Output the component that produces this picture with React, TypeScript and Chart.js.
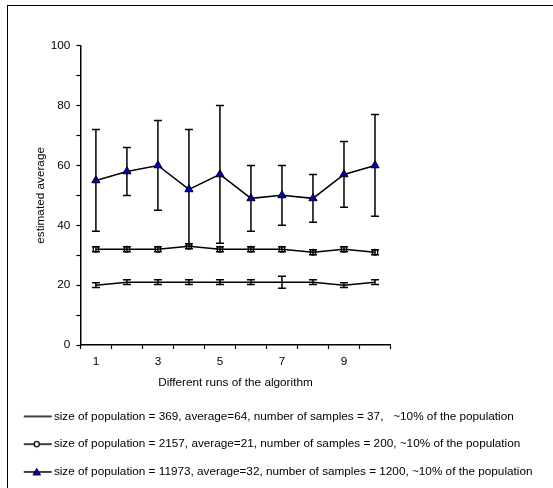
import React, { useEffect, useRef } from 'react';
import { Chart, registerables } from 'chart.js';

Chart.register(...registerables);

// ---- data ----
const runs = ['1', '2', '3', '4', '5', '6', '7', '8', '9', '10'];

// population 369 (plain line)
const smallMean = [20, 21, 21, 21, 21, 21, 21, 21, 20, 21];
const smallLow = [19.2, 20.2, 20.2, 20.2, 20.2, 20.2, 19, 20.2, 19.2, 20.2];
const smallHigh = [20.8, 21.8, 21.8, 21.8, 21.8, 21.8, 23, 21.8, 20.8, 21.8];

// population 2157 (open circles)
const midMean = [32, 32, 32, 33, 32, 32, 32, 31, 32, 31];
const midLow = [31.2, 31.2, 31.2, 32.2, 31.2, 31.2, 31.2, 30.2, 31.2, 30.2];
const midHigh = [32.8, 32.8, 32.8, 33.8, 32.8, 32.8, 32.8, 31.8, 32.8, 31.8];

// population 11973 (blue triangles)
const bigMean = [55, 58, 60, 52, 57, 49, 50, 49, 57, 60];
const bigLow = [38, 50, 45, 33, 34, 38, 40, 41, 46, 43];
const bigHigh = [72, 66, 75, 72, 80, 60, 60, 57, 68, 77];

const legendTexts = [
  'size of population = 369, average=64, number of samples = 37,   ~10% of the population',
  'size of population = 2157, average=21, number of samples = 200, ~10% of the population',
  'size of population = 11973, average=32, number of samples = 1200, ~10% of the population',
];
const markerKinds = ['none', 'circle', 'triangle'];

const xTitle = 'Different runs of the algorithm';
const yTitle = 'estimated average';

// ---- styling ----
const FONT = { family: "'Liberation Sans', Arial, sans-serif", size: 11.75 };
const BLUE = '#0000CC';
const PAD_LEFT = 7;

function legendImage(kind: string): HTMLCanvasElement {
  const c = document.createElement('canvas');
  c.width = 33;
  c.height = 12;
  const ctx = c.getContext('2d')!;
  ctx.strokeStyle = '#000';
  ctx.lineWidth = 1.5;
  ctx.beginPath();
  ctx.moveTo(4.75, 6);
  ctx.lineTo(32.75, 6);
  ctx.stroke();
  const cx = 17.75;
  if (kind === 'circle') {
    ctx.fillStyle = '#fff';
    ctx.lineWidth = 1.2;
    ctx.beginPath();
    ctx.arc(cx, 6, 2.6, 0, Math.PI * 2);
    ctx.fill();
    ctx.stroke();
  } else if (kind === 'triangle') {
    ctx.fillStyle = BLUE;
    ctx.lineWidth = 1;
    ctx.beginPath();
    ctx.moveTo(cx, 2.5);
    ctx.lineTo(cx + 3.8, 9);
    ctx.lineTo(cx - 3.8, 9);
    ctx.closePath();
    ctx.fill();
    ctx.stroke();
  }
  return c;
}

const errorBarPlugin = {
  id: 'errorBars',
  beforeDatasetsDraw(chart: any) {
    const ctx = chart.ctx;
    const yScale = chart.scales.y;
    ctx.save();
    ctx.strokeStyle = '#000';
    ctx.lineWidth = 1.5;
    chart.data.datasets.forEach((ds: any, i: number) => {
      const meta = chart.getDatasetMeta(i);
      meta.data.forEach((pt: any, j: number) => {
        const x = pt.x;
        const y1 = yScale.getPixelForValue(ds.errLow[j]);
        const y2 = yScale.getPixelForValue(ds.errHigh[j]);
        ctx.beginPath();
        ctx.moveTo(x, y1);
        ctx.lineTo(x, y2);
        ctx.moveTo(x - 4, y1);
        ctx.lineTo(x + 4, y1);
        ctx.moveTo(x - 4, y2);
        ctx.lineTo(x + 4, y2);
        ctx.stroke();
      });
    });
    ctx.restore();
  },
};

export default function App() {
  const ref = useRef<HTMLCanvasElement | null>(null);

  useEffect(() => {
    const canvas = ref.current;
    if (!canvas) return;
    const images = markerKinds.map(legendImage);

    const chart = new Chart(canvas, {
      type: 'line',
      data: {
        labels: runs,
        datasets: [
          {
            label: legendTexts[0],
            data: smallMean,
            errLow: smallLow,
            errHigh: smallHigh,
            borderColor: '#000',
            borderWidth: 1.5,
            pointRadius: 0,
            fill: false,
          } as any,
          {
            label: legendTexts[1],
            data: midMean,
            errLow: midLow,
            errHigh: midHigh,
            borderColor: '#000',
            borderWidth: 1.5,
            pointStyle: 'circle',
            pointRadius: 2.8,
            pointBorderWidth: 1.2,
            pointBackgroundColor: 'rgba(0,0,0,0)',
            pointBorderColor: '#000',
            fill: false,
          } as any,
          {
            label: legendTexts[2],
            data: bigMean,
            errLow: bigLow,
            errHigh: bigHigh,
            borderColor: '#000',
            borderWidth: 1.5,
            pointStyle: 'triangle',
            pointRadius: 4.7,
            pointBorderWidth: 1,
            pointBackgroundColor: BLUE,
            pointBorderColor: '#000',
            fill: false,
          } as any,
        ],
      },
      options: {
        responsive: false,
        animation: false,
        events: [],
        layout: { padding: { left: PAD_LEFT, right: 0, top: 45.7, bottom: 0.2 } },
        scales: {
          x: {
            type: 'category',
            offset: true,
            grid: {
              offset: true,
              drawOnChartArea: false,
              drawTicks: true,
              tickLength: 4,
              color: '#000',
              tickColor: '#000',
              tickWidth: 1.2,
            },
            border: { color: '#000', width: 1.5 },
            ticks: {
              autoSkip: false,
              maxRotation: 0,
              minRotation: 0,
              padding: 6,
              color: '#000',
              font: FONT,
              callback: (_v: any, i: number) => (i % 2 === 0 ? runs[i] : ''),
            },
            title: {
              display: true,
              text: xTitle,
              color: '#000',
              font: FONT,
              padding: { top: 0, bottom: 5.1 },
            },
            afterFit: (s: any) => {
              s.height = 49.5;
            },
          },
          y: {
            min: 0,
            max: 100,
            grid: {
              drawOnChartArea: false,
              drawTicks: true,
              tickLength: 4,
              color: '#000',
              tickColor: '#000',
              tickWidth: 1.2,
            },
            border: { color: '#000', width: 1.5 },
            ticks: {
              stepSize: 10,
              padding: 6,
              color: '#000',
              font: FONT,
              callback: (v: any) => (Number(v) % 20 === 0 ? String(v) : ''),
            },
            title: {
              display: true,
              text: yTitle,
              color: '#000',
              font: FONT,
              padding: { top: 26.7, bottom: 0 },
            },
            afterFit: (s: any) => {
              s.width = 80.4 - PAD_LEFT;
            },
          },
          // empty right-hand spacer, reserves the blank area right of the plot
          spacer: {
            type: 'linear',
            position: 'right',
            display: true,
            grid: { display: false, drawTicks: false },
            border: { display: false },
            ticks: { display: false },
            afterFit: (s: any) => {
              s.width = 553 - 390.5;
            },
          },
        },
        plugins: {
          legend: {
            position: 'bottom',
            align: 'start',
            labels: {
              usePointStyle: true,
              pointStyleWidth: 25,
              padding: 16,
              color: '#000',
              font: FONT,
              generateLabels: (c: any) =>
                c.data.datasets.map((ds: any, i: number) => ({
                  text: ds.label,
                  pointStyle: images[i],
                  fillStyle: '#000',
                  strokeStyle: '#000',
                  lineWidth: 0,
                  hidden: false,
                  datasetIndex: i,
                  fontColor: '#000',
                })),
            },
          },
          tooltip: { enabled: false },
        },
      } as any,
      plugins: [errorBarPlugin],
    });

    return () => chart.destroy();
  }, []);

  return (
    <div
      style={{
        position: 'fixed',
        left: 0,
        top: 0,
        width: 553,
        height: 488,
        overflow: 'hidden',
        background: '#fff',
      }}
    >
      <div
        style={{
          position: 'absolute',
          left: 7,
          top: 5,
          width: 700,
          height: 700,
          border: '1.5px solid #000',
          pointerEvents: 'none',
        }}
      />
      <canvas ref={ref} width={553} height={488} style={{ position: 'absolute', left: 0, top: 0 }} />
    </div>
  );
}
